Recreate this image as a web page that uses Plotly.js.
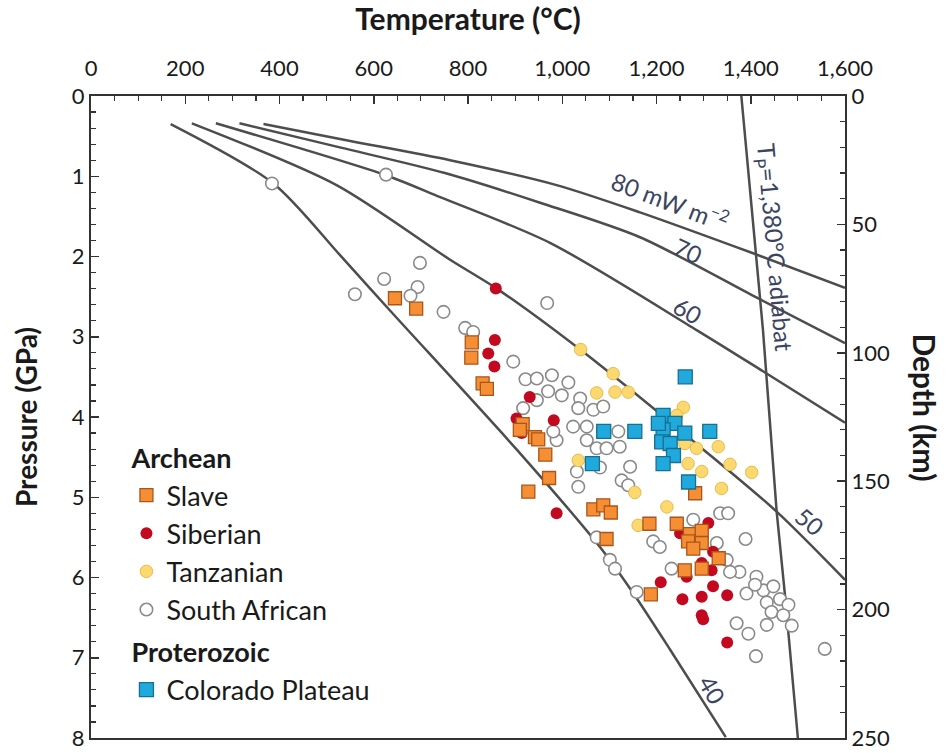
<!DOCTYPE html>
<html>
<head>
<meta charset="utf-8">
<script src="https://cdn.plot.ly/plotly-3.0.1.min.js"></script>
<style>body{margin:0;background:#fff}</style>
</head>
<body>
<div id="chart" style="width:949px;height:753px"></div>
<script>
// ---- Geotherms (surface heat flow, mW m-2): temperature (°C) vs pressure (GPa)
const g40T = [169, 387, 528, 634, 904, 1080, 1150, 1229, 1347];
const g40P = [0.35, 1.09, 1.98, 2.67, 4.41, 5.62, 6.19, 6.90, 7.99];
const g50T = [214, 521, 762, 861, 1038, 1292, 1455, 1600];
const g50P = [0.34, 1.11, 2.04, 2.40, 3.16, 4.37, 5.18, 6.03];
const g60T = [265, 627, 741, 974, 1286, 1426, 1600];
const g60P = [0.34, 0.99, 1.26, 1.83, 2.92, 3.43, 4.07];
const g70T = [315, 528, 751, 953, 1165, 1415, 1600];
const g70P = [0.34, 0.64, 0.96, 1.33, 1.76, 2.52, 3.08];
const g80T = [366, 550, 762, 988, 1165, 1405, 1600];
const g80P = [0.35, 0.56, 0.80, 1.11, 1.45, 1.96, 2.39];
// ---- Adiabat Tp = 1,380 °C
const adT = [1380, 1426, 1455, 1473, 1500];
const adP = [0, 2.92, 5.18, 6.24, 8.0];

// ---- Xenolith P-T data
const slaveT = [645, 690, 808, 807, 831, 840, 916, 910, 942, 949, 964, 972, 928, 1066, 1087, 1103, 1094, 1185, 1188, 1282, 1243, 1271, 1296, 1267, 1296, 1278, 1332, 1260, 1296];
const slaveP = [2.52, 2.65, 3.07, 3.26, 3.58, 3.65, 4.09, 4.16, 4.25, 4.28, 4.47, 4.76, 4.93, 5.15, 5.10, 5.19, 5.52, 5.33, 6.21, 4.95, 5.33, 5.46, 5.42, 5.55, 5.57, 5.64, 5.76, 5.91, 5.89];

const sibT = [859, 857, 843, 856, 931, 903, 914, 982, 988, 1209, 1310, 1250, 1320, 1296, 1317, 1264, 1320, 1255, 1296, 1350, 1296, 1299, 1350];
const sibP = [2.40, 3.04, 3.21, 3.37, 3.75, 4.02, 4.20, 4.04, 5.20, 6.06, 5.32, 5.45, 5.68, 5.82, 5.91, 5.99, 6.11, 6.27, 6.24, 6.22, 6.47, 6.52, 6.81];

const tanzT = [1039, 1108, 1073, 1112, 1140, 1257, 1243, 1260, 1285, 1331, 1267, 1296, 1356, 1402, 1338, 1222, 1154, 1161, 1034];
const tanzP = [3.16, 3.46, 3.70, 3.69, 3.69, 3.88, 3.98, 4.33, 4.39, 4.37, 4.58, 4.68, 4.59, 4.69, 4.89, 5.12, 4.94, 5.35, 4.54];

const safT = [384, 626, 560, 622, 698, 693, 678, 748, 794, 811, 896, 968, 922, 946, 978, 1013, 970, 999, 946, 917, 1038, 1066, 1087, 1034, 1023, 1052, 1052, 1073, 1094, 1122, 1119, 988, 981, 1031, 1034, 1080, 1144, 1126, 1140, 1335, 1352, 1389, 1328, 1349, 1376, 1232, 1193, 1207, 1412, 1391, 1427, 1448, 1462, 1480, 1434, 1444, 1469, 1434, 1487, 1370, 1395, 1411, 1557, 1158, 1101, 1112, 1278, 1356, 1409, 1073];
const safP = [1.09, 0.98, 2.47, 2.28, 2.08, 2.38, 2.49, 2.69, 2.89, 2.94, 3.31, 2.58, 3.53, 3.52, 3.48, 3.57, 3.68, 3.73, 3.79, 3.89, 3.77, 3.91, 3.87, 3.89, 4.12, 4.12, 4.29, 4.39, 4.39, 4.37, 4.18, 4.29, 4.18, 4.68, 4.87, 4.63, 4.62, 4.79, 4.85, 5.20, 5.20, 5.52, 5.57, 5.78, 5.93, 5.89, 5.55, 5.62, 5.99, 6.20, 6.16, 6.11, 6.27, 6.34, 6.31, 6.43, 6.47, 6.59, 6.60, 6.57, 6.70, 6.98, 6.89, 6.18, 5.78, 5.89, 5.28, 5.93, 6.09, 5.50];

const coloT = [1261, 1214, 1239, 1214, 1260, 1313, 1154, 1088, 1211, 1229, 1236, 1214, 1064, 1268, 1204];
const coloP = [3.50, 3.98, 4.08, 4.16, 4.20, 4.18, 4.18, 4.18, 4.31, 4.33, 4.48, 4.58, 4.58, 4.81, 4.08];

const FONT = 'Lato, "Open Sans", sans-serif';
const LINE = '#4d4d4d';
const LABEL = '#3b4563';

function geo(T, P) {
  return {x: T, y: P, mode: 'lines', type: 'scatter', showlegend: false, hoverinfo: 'skip',
          line: {color: LINE, width: 2.5, shape: 'spline', smoothing: 0.8}};
}

const traces = [
  geo(g40T, g40P), geo(g50T, g50P), geo(g60T, g60P), geo(g70T, g70P), geo(g80T, g80P),
  {x: adT, y: adP, mode: 'lines', type: 'scatter', showlegend: false, hoverinfo: 'skip',
   line: {color: LINE, width: 2.5}},
  {x: safT, y: safP, mode: 'markers', type: 'scatter', name: 'South African',
   legendgroup: 'arch', legendrank: 4,
   marker: {symbol: 'circle', size: 12.5, color: '#ffffff', line: {color: '#8a8a8a', width: 1.6}}},
  {x: sibT, y: sibP, mode: 'markers', type: 'scatter', name: 'Siberian',
   legendgroup: 'arch', legendrank: 2,
   marker: {symbol: 'circle', size: 12, color: '#c2091f', line: {color: '#c2091f', width: 0}}},
  {x: tanzT, y: tanzP, mode: 'markers', type: 'scatter', name: 'Tanzanian',
   legendgroup: 'arch', legendrank: 3,
   marker: {symbol: 'circle', size: 12.5, color: '#fcd96f', line: {color: '#eab94c', width: 1}}},
  {x: slaveT, y: slaveP, mode: 'markers', type: 'scatter', name: 'Slave',
   legendgroup: 'arch', legendrank: 1,
   legendgrouptitle: {text: '<b>Archean</b>', font: {family: FONT, size: 27, color: '#1a1a1a'}},
   marker: {symbol: 'square', size: 13, color: '#f68e33', line: {color: '#a9561c', width: 1.3}}},
  {x: coloT, y: coloP, mode: 'markers', type: 'scatter', name: 'Colorado Plateau',
   legendgroup: 'prot', legendrank: 5,
   legendgrouptitle: {text: '<b>Proterozoic</b>', font: {family: FONT, size: 27, color: '#1a1a1a'}},
   marker: {symbol: 'square', size: 14, color: '#1fa9dd', line: {color: '#186f90', width: 1.3}}},
  {x: [], y: [], yaxis: 'y2', type: 'scatter', showlegend: false, hoverinfo: 'skip'}
];

const axCommon = {
  showgrid: false, zeroline: false, showline: true, linecolor: '#333', linewidth: 2,
  ticks: 'inside', ticklen: 8, tickwidth: 1.5, tickcolor: '#333',
  tickfont: {family: FONT, size: 22, color: '#1a1a1a'}
};

const layout = {
  width: 949, height: 753,
  margin: {l: 91, r: 104, t: 96, b: 15},
  paper_bgcolor: '#ffffff', plot_bgcolor: '#ffffff',
  font: {family: FONT, color: '#1a1a1a'},
  xaxis: Object.assign({}, axCommon, {
    range: [0, 1600], side: 'top', dtick: 200, tickformat: ',', mirror: true,
    ticklabelstandoff: 9,
    minor: {dtick: 50, ticks: 'inside', ticklen: 5, tickcolor: '#333', tickwidth: 1.2},
    title: {text: '<b>Temperature (°C)</b>', font: {family: FONT, size: 30, color: '#1a1a1a'}, standoff: 16}
  }),
  yaxis: Object.assign({}, axCommon, {
    range: [8, 0], dtick: 1, mirror: true,
    minor: {dtick: 0.2, ticks: 'inside', ticklen: 5, tickcolor: '#333', tickwidth: 1.2},
    title: {text: '<b>Pressure (GPa)</b>', font: {family: FONT, size: 28, color: '#1a1a1a'}, standoff: 26}
  }),
  yaxis2: Object.assign({}, axCommon, {
    overlaying: 'y', side: 'right', range: [250, 0], dtick: 50,
    minor: {dtick: 10, ticks: 'inside', ticklen: 5, tickcolor: '#333', tickwidth: 1.2}
  }),
  legend: {
    x: 0.047, y: 0.475, xanchor: 'left', yanchor: 'top',
    bgcolor: 'rgba(0,0,0,0)', traceorder: 'grouped', tracegroupgap: 4,
    font: {family: FONT, size: 27, color: '#1a1a1a'}, itemwidth: 30
  },
  annotations: [
    {xref: 'paper', yref: 'paper', x: 1.106, y: 0.515, xanchor: 'center', yanchor: 'middle',
     text: '<b>Depth (km)</b>', textangle: 90,
     showarrow: false, font: {family: FONT, size: 30, color: '#1a1a1a'}},
    {xref: 'x', yref: 'y', x: 1229, y: 1.30, text: '80 mW m<sup>−2</sup>', textangle: 21,
     showarrow: false, font: {family: FONT, size: 24, color: LABEL}},
    {xref: 'x', yref: 'y', x: 1267, y: 1.93, text: '70', textangle: 25,
     showarrow: false, font: {family: FONT, size: 24, color: LABEL}},
    {xref: 'x', yref: 'y', x: 1267, y: 2.67, text: '60', textangle: 30,
     showarrow: false, font: {family: FONT, size: 24, color: LABEL}},
    {xref: 'x', yref: 'y', x: 1526, y: 5.30, text: '50', textangle: 40,
     showarrow: false, font: {family: FONT, size: 24, color: LABEL}},
    {xref: 'x', yref: 'y', x: 1318, y: 7.40, text: '40', textangle: 60,
     showarrow: false, font: {family: FONT, size: 24, color: LABEL}},
    {xref: 'x', yref: 'y', x: 1448, y: 1.89, text: 'T<sub>P</sub>=1,380°C adiabat', textangle: 85,
     showarrow: false, font: {family: FONT, size: 24, color: LABEL}}
  ]
};

Plotly.newPlot('chart', traces, layout, {displayModeBar: false, staticPlot: true});
</script>
</body>
</html>
